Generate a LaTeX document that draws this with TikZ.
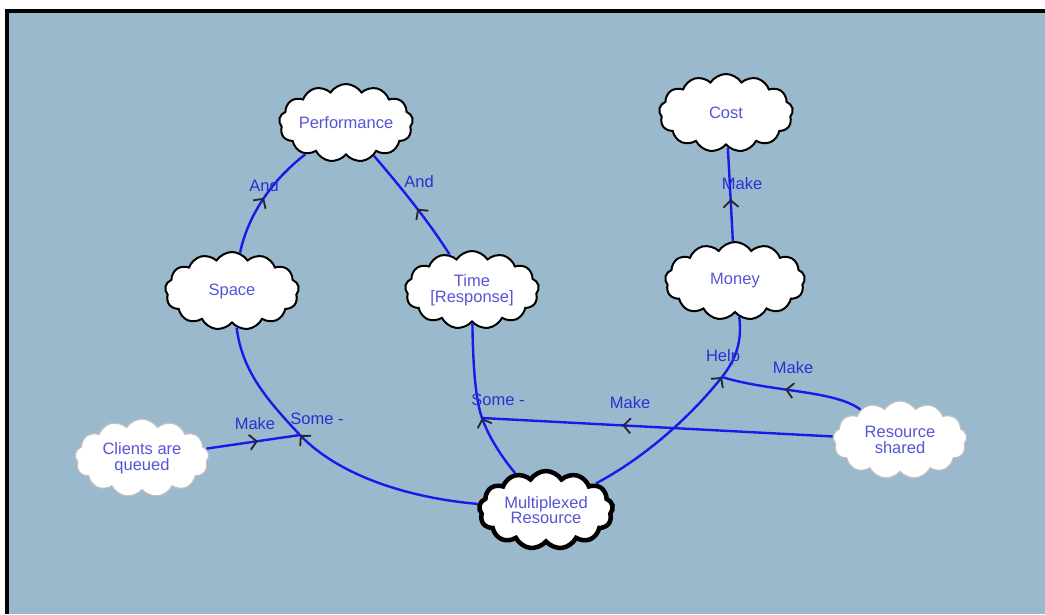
\documentclass[tikz,border=0pt]{standalone}
\usepackage{fontspec}
\setmainfont{Liberation Sans}
\usetikzlibrary{shapes.symbols,arrows.meta,decorations.markings}
\definecolor{bg}{RGB}{154,185,204}
\definecolor{edgeblue}{RGB}{25,25,235}
\definecolor{ntext}{RGB}{85,85,215}
\definecolor{ltext}{RGB}{45,45,210}
\begin{document}
\begin{tikzpicture}[x=1pt,y=-1pt,
  concept/.style={cloud, cloud puffs=13, cloud puff arc=115, cloud ignores aspect,
    draw=black, line width=2pt, fill=white, text=ntext, align=center,
    font=\fontsize{16.5}{15.5}\selectfont, inner sep=0pt,
    minimum width=134pt, minimum height=78pt},
  faint/.style={concept, draw=gray!50, line width=1.2pt},
  heavy/.style={concept, line width=4.5pt},
  link/.style={draw=edgeblue, line width=2.4pt},
  lbl/.style={text=ltext, font=\fontsize{16.5}{16}\selectfont, inner sep=0pt},
  midarrow/.style={postaction={decorate,decoration={markings,
    mark=at position #1 with {\arrow{Straight Barb[length=7pt,width=15pt,line width=1.8pt,color=black!85]}}}}}
]
\useasboundingbox (0,0) rectangle (1045,614);
\fill[bg] (9,13) rectangle (1045,614);
\fill[black] (5,9) rectangle (1045,13);
\fill[black] (5,9) rectangle (9,614);

% concepts
\node[concept] (perf) at (346,123) {Performance};
\node[concept] (cost) at (726,113) {Cost};
\node[concept] (space) at (232,291) {Space};
\node[concept] (time) at (472,290) {Time\\{[Response]}};
\node[concept, minimum width=140pt] (money) at (735,281) {Money};
\node[faint] (clients) at (142,458) {Clients are\\queued};
\node[heavy] (mux) at (546,510) {Multiplexed\\Resource};
\node[faint] (shared) at (900,440) {Resource\\shared};

% junctions on links
\coordinate (j1) at (300,435);
\coordinate (j2) at (482,418);
\coordinate (j3) at (722,377);

% links
\draw[link, midarrow=0.5] (space) .. controls (248,215) and (272,180) .. (perf);
\draw[link, midarrow=0.45] (time) .. controls (429,222) and (404,191) .. (perf);
\draw[link, midarrow=0.45] (money) -- (cost);

\draw[link, midarrow=1] (mux) .. controls (400,497) and (335,472) .. (j1);
\draw[link] (j1) .. controls (265,398) and (242,370) .. (space);

\draw[link, midarrow=1] (mux) .. controls (500,455) and (488,435) .. (j2);
\draw[link] (j2) .. controls (476,401) and (473,370) .. (time);

\draw[link, midarrow=1] (mux) .. controls (655,452) and (700,405) .. (j3);
\draw[link] (j3) .. controls (737,358) and (742,340) .. (money);

\draw[link, midarrow=0.55] (clients) -- (j1);
\draw[link, midarrow=0.6] (shared) -- (j2);
\draw[link, midarrow=0.55] (shared) .. controls (835,390) and (770,392) .. (j3);

% link labels
\node[lbl] (l1) at (264,186) {And};
\node[lbl] (l2) at (419,182) {And};
\node[lbl] (l3) at (742,184) {Make};
\node[lbl] (l4) at (317,419) {Some -};
\node[lbl] (l5) at (498,400) {Some -};
\node[lbl] (l6) at (723,357) {Help};
\node[lbl] (l7) at (255,424) {Make};
\node[lbl] (l8) at (630,403) {Make};
\node[lbl] (l9) at (793,368) {Make};
\end{tikzpicture}
\end{document}
